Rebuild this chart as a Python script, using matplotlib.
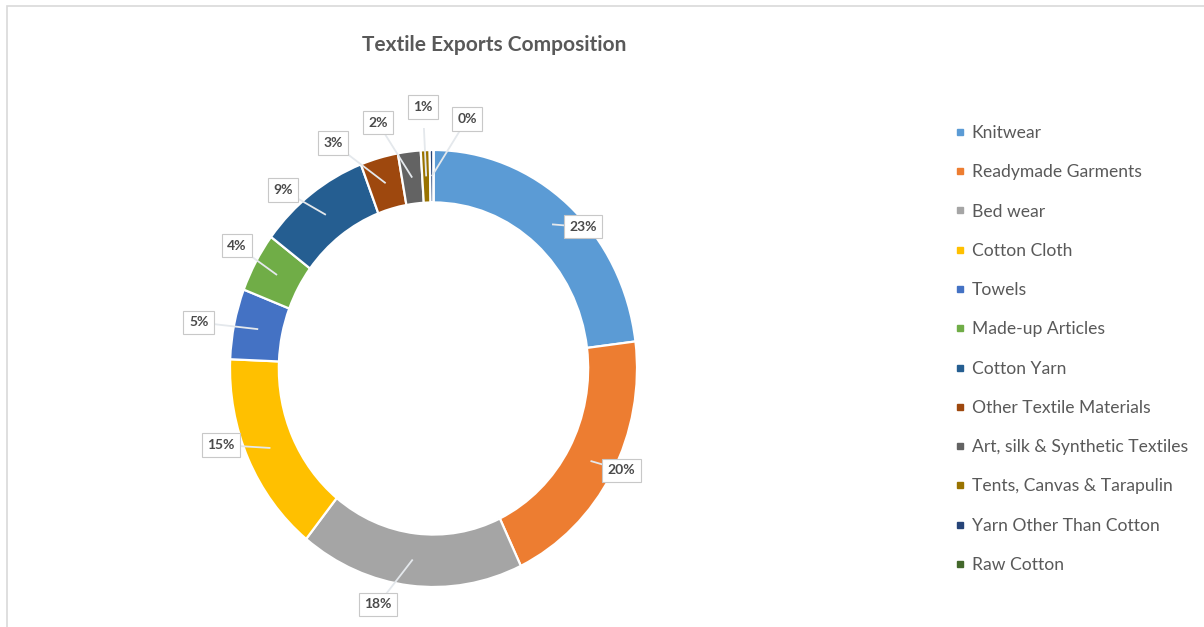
import matplotlib
matplotlib.use("Agg")
import matplotlib.pyplot as plt
from matplotlib.lines import Line2D
from matplotlib.patches import Rectangle
import numpy as np

# ---- data ----
categories = ["Knitwear", "Readymade Garments", "Bed wear", "Cotton Cloth", "Towels",
              "Made-up Articles", "Cotton Yarn", "Other Textile Materials",
              "Art, silk & Synthetic Textiles", "Tents, Canvas & Tarapulin",
              "Yarn Other Than Cotton", "Raw Cotton"]
shares = [23.0, 19.9, 17.8, 14.9, 5.2, 4.4, 8.9, 3.0, 1.8, 0.7, 0.3, 0.0]
colors = ["#5B9BD5", "#ED7D31", "#A5A5A5", "#FFC000", "#4472C4", "#70AD47",
          "#255E91", "#9E480E", "#636363", "#997300", "#264478", "#43682B"]

# label box placement (layout, in unit-circle coords)
label_pos = [(0.735, 0.648), (0.925, -0.465), (-0.273, -1.080), (-1.044, -0.350),
             (-1.154, 0.211), (-0.966, 0.561), (-0.740, 0.817), (-0.494, 1.032),
             (-0.273, 1.124), (-0.052, 1.197), (0.165, 1.142), None]

W, H = 1204, 627
fig = plt.figure(figsize=(W / 100, H / 100), dpi=100)
plt.rcParams['font.family'] = ['Lato', 'DejaVu Sans']

# chart area border (light gray)
fig.patches.append(Rectangle((7 / W, -0.1), 1.2, (H - 6) / H + 0.1, transform=fig.transFigure,
                             fill=False, ec="#d9d9d9", lw=1.2))

cx, cy, rx, ry = 433.5, 368.5, 203.5, 218.5
lim = 1.1
ax = fig.add_axes([(cx - lim * rx) / W, (H - cy - lim * ry) / H, 2 * lim * rx / W, 2 * lim * ry / H])
wedges, _ = ax.pie(shares, colors=colors, startangle=90, counterclock=False, radius=1.0,
                   wedgeprops=dict(width=0.24, edgecolor="white", linewidth=1.6))
ax.set_aspect("auto")
ax.set_xlim(-lim, lim)
ax.set_ylim(-lim, lim)
ax.axis("off")

total = sum(shares)
cum = 0.0
for i, (v, pos) in enumerate(zip(shares, label_pos)):
    start = cum
    cum += v
    if pos is None:
        continue
    mid = (start + cum) / 2 / total * 2 * np.pi
    ang = np.pi / 2 - mid
    px, py = 0.88 * np.cos(ang), 0.88 * np.sin(ang)
    ax.plot([pos[0], px], [pos[1], py], color="#e4e8ec", lw=1.3, zorder=3, solid_capstyle="butt")
    ax.text(pos[0], pos[1], f"{v / total * 100:.0f}%", ha="center", va="center",
            fontsize=10, color="#4a4a4a", fontweight="bold", zorder=5,
            bbox=dict(boxstyle="square,pad=0.4", fc="white", ec="#c8c8c8", lw=0.8))

fig.text(494 / W, 1 - 45 / H, "Textile Exports Composition", ha="center", va="center",
         fontsize=15, fontweight="bold", color="#595959")

handles = [Line2D([], [], marker="s", ls="", color=c, markersize=4.5) for c in colors]
fig.legend(handles, categories, loc="upper left", bbox_to_anchor=(955 / W, 1 - 125 / H),
           frameon=False, fontsize=12.6, labelcolor="#595959", handlelength=0.6,
           handletextpad=0.35, labelspacing=1.33, borderaxespad=0, borderpad=0)

fig.savefig("out.png", dpi=100, facecolor="white")
